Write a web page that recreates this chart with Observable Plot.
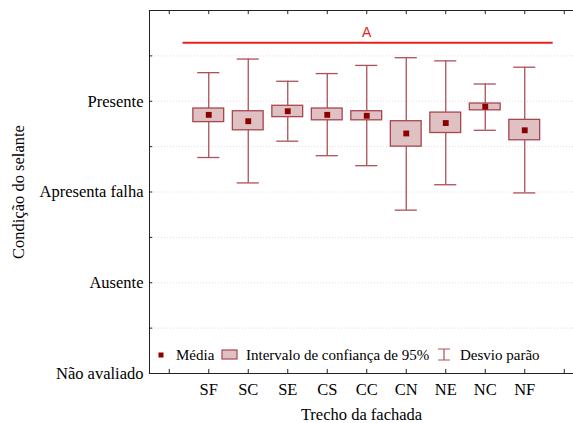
<!DOCTYPE html>
<html><head><meta charset="utf-8">
<script src="https://cdn.jsdelivr.net/npm/d3@7"></script>
<script src="https://cdn.jsdelivr.net/npm/@observablehq/plot@0.6"></script>
<style>body{margin:0;background:#fff;} #chart{width:573px;height:423px;overflow:hidden;}</style>
</head><body><div id="chart"></div>
<script>
const categories = ["SF","SC","SE","CS","CC","CN","NE","NC","NF"];
const means   = [2.85, 2.78, 2.89, 2.85, 2.84, 2.645, 2.76, 2.94, 2.68];
const ciLow   = [2.77, 2.68, 2.825, 2.79, 2.79, 2.50, 2.65, 2.90, 2.57];
const ciHigh  = [2.92, 2.89, 2.95, 2.92, 2.89, 2.78, 2.875, 2.975, 2.795];
const sdLow   = [2.38, 2.10, 2.56, 2.40, 2.29, 1.80, 2.08, 2.68, 1.99];
const sdHigh  = [3.315, 3.465, 3.22, 3.305, 3.395, 3.48, 3.445, 3.19, 3.375];
const yLevels = ["Não avaliado","Ausente","Apresenta falha","Presente"];
const groupLetter = "A";
const groupLevel = 3.645;
const legendLabels = ["Média","Intervalo de confiança de 95%","Desvio parão"];
const xTitle = "Trecho da fachada";
const yTitle = "Condição do selante";

const data = categories.map((c, k) => ({
  cat: c, i: k + 1, mean: means[k], lo: ciLow[k], hi: ciHigh[k], sdl: sdLow[k], sdh: sdHigh[k]
}));

const FONT = "'Liberation Serif', 'Times New Roman', serif";
const FS = 16.5;
const boxFill = "#dfc0c3", boxStroke = "#a8464e", whisk = "#ad5058", meanCol = "#8b0000";
const xTicks = d3.range(0, 11);
const yMinor = d3.range(0, 4.01, 0.5);
const grid = [0.5, 1, 1.5, 2, 2.5, 3, 3.5];

const chart = Plot.plot({
  width: 573, height: 423,
  marginLeft: 149, marginRight: 0, marginTop: 10, marginBottom: 50,
  x: {type: "linear", domain: [-0.5, 10.5], range: [149, 583.5]},
  y: {domain: [0, 4], range: [373, 10]},
  style: {fontFamily: FONT, fontSize: FS + "px", color: "#000", background: "#fff"},
  marks: [
    Plot.ruleY(grid, {x1: -0.5, x2: 10.5, y: d => d, stroke: "#d6d6d6", strokeWidth: 0.8, strokeDasharray: "1,2"}),
    // frame lines
    Plot.ruleY([0, 4], {x1: -0.5, x2: 10.5, y: d => d, stroke: "#222", strokeWidth: 1}),
    Plot.ruleX([-0.5], {y1: 0, y2: 4, x: d => d, stroke: "#222", strokeWidth: 1}),
    // inward ticks
    Plot.ruleY(yMinor, {x1: -0.5, x2: -0.42, y: d => d, stroke: "#222"}),
    Plot.ruleX(xTicks, {y1: 0, y2: 0.045, x: d => d, stroke: "#222"}),
    Plot.ruleX(xTicks, {y1: 4, y2: 3.955, x: d => d, stroke: "#222"}),
    // group line
    Plot.ruleY([groupLevel], {x1: 0.35, x2: 9.72, y: d => d, stroke: "#e52222", strokeWidth: 2}),
    Plot.text([groupLetter], {x: 5, y: groupLevel, dy: -10, text: d => d, fill: "#e52222", fontFamily: "'Liberation Sans', Arial, sans-serif", fontSize: 14}),
    // whiskers
    Plot.ruleX(data, {x: "i", y1: "sdl", y2: "sdh", stroke: whisk, strokeWidth: 1.3}),
    Plot.ruleY(data, {y: "sdh", x1: d => d.i - 0.28, x2: d => d.i + 0.28, stroke: whisk, strokeWidth: 1.3}),
    Plot.ruleY(data, {y: "sdl", x1: d => d.i - 0.28, x2: d => d.i + 0.28, stroke: whisk, strokeWidth: 1.3}),
    // CI boxes
    Plot.rect(data, {x1: d => d.i - 0.39, x2: d => d.i + 0.39, y1: "lo", y2: "hi", fill: boxFill, stroke: boxStroke, strokeWidth: 1.3}),
    // means
    Plot.dot(data, {x: "i", y: "mean", symbol: "square", r: 3.3, fill: meanCol, stroke: "none"}),
    // axes
    Plot.axisY({ticks: [0, 1, 2, 3], tickFormat: v => yLevels[v], tickSize: 0, tickPadding: 6, fontSize: FS,
      label: yTitle, labelAnchor: "center", labelArrow: "none", labelOffset: 137}),
    Plot.axisX({ticks: d3.range(1, 10), tickFormat: v => categories[v - 1], tickSize: 0, tickPadding: 10, fontSize: FS,
      label: xTitle, labelAnchor: "center", labelArrow: "none", labelOffset: 46})
  ]
});
document.getElementById("chart").appendChild(chart);

// legend inside plot area
const svg = d3.select(chart);
const lg = svg.append("g").attr("font-family", FONT).attr("font-size", 15).attr("text-anchor", "start").attr("fill", "#000");
const ly = 355;
lg.append("rect").attr("x", 158.5).attr("y", ly - 2.5).attr("width", 5).attr("height", 5).attr("fill", meanCol);
lg.append("text").attr("x", 176).attr("y", ly).attr("dy", "0.35em").text(legendLabels[0]);
lg.append("rect").attr("x", 222).attr("y", ly - 5).attr("width", 15).attr("height", 9).attr("fill", boxFill).attr("stroke", boxStroke).attr("stroke-width", 1.2);
lg.append("text").attr("x", 246).attr("y", ly).attr("dy", "0.35em").text(legendLabels[1]);
const ex = 444;
lg.append("path").attr("d", `M${ex-6},${ly-6}H${ex+6}M${ex},${ly-6}V${ly+5}M${ex-6},${ly+5}H${ex+6}`).attr("stroke", whisk).attr("fill", "none").attr("stroke-width", 1.2);
lg.append("text").attr("x", 460).attr("y", ly).attr("dy", "0.35em").text(legendLabels[2]);
</script>
</body></html>
